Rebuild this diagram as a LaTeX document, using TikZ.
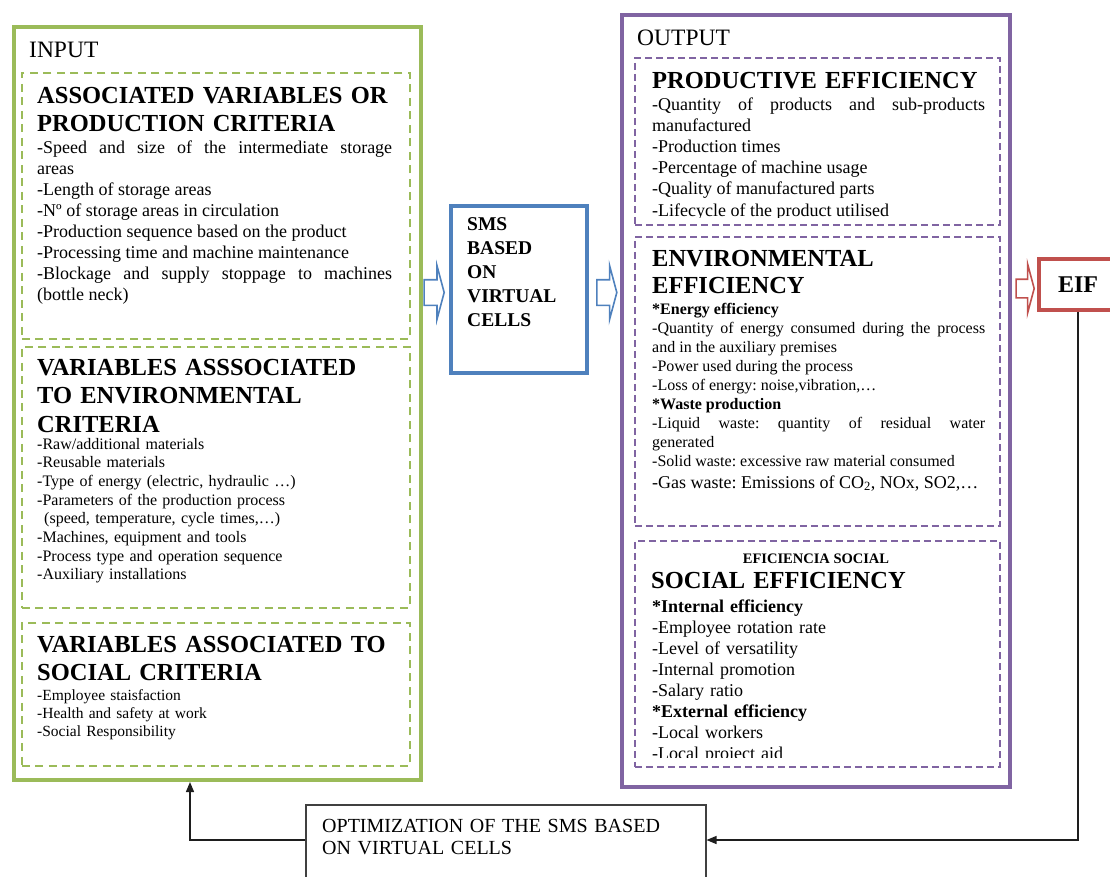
\documentclass[tikz,border=0pt]{standalone}
\usepackage{fontspec}
\setmainfont{Liberation Serif}
\usepackage{tikz}
\usetikzlibrary{arrows.meta,positioning,calc,shapes.arrows}
\usepackage{xcolor}
\definecolor{Leaf}{HTML}{9BBB59}
\definecolor{Plum}{HTML}{8064A2}
\definecolor{Steel}{HTML}{4F81BD}
\definecolor{Brick}{HTML}{C0504D}
\definecolor{Ink}{HTML}{1E1E1E}
\newcommand{\fsz}[2]{\fontsize{#1}{#2}\selectfont}
\frenchspacing
\tikzset{
  outerbox/.style={draw=#1, line width=4pt, inner sep=0pt, anchor=north west},
  subbox/.style={draw=#1, line width=1.6pt, inner sep=0pt, anchor=north west},
  greendash/.style={subbox=Leaf, dash pattern=on 8pt off 5.5pt},
  plumdash/.style={subbox=Plum, dash pattern=on 7pt off 4pt},
  headtxt/.style={anchor=base west, inner sep=0pt, text width=370pt, align=left,
    font=\bfseries\fsz{24.5}{28.5}},
  bodytxt/.style={anchor=base west, inner sep=0pt, text width=#1, align=justify},
  bodytxt/.default={355pt},
  hollowarr/.style={single arrow, draw=#1, fill=white, line width=1.6pt,
    inner xsep=0pt, inner ysep=12pt, single arrow head extend=14pt,
    single arrow tip angle=150, minimum height=20pt},
  fbarr/.style={draw=Ink, line width=1.3pt, -{Triangle[length=10pt,width=8pt]}},
}

\begin{document}
\begin{tikzpicture}[x=1pt, y=-1pt]
  \useasboundingbox (0,0) rectangle (1110,876);

  % input side
  \node[outerbox=Leaf, minimum width=407pt, minimum height=753pt] (input) at (12,25) {};
  \node[anchor=base west, inner sep=0pt, font=\fsz{23.5}{28}] (inlbl) at (29,57) {INPUT};
  \node[greendash, minimum width=388pt, minimum height=266pt] (prodvar) at (21,72) {};
  \node[greendash, minimum width=388pt, minimum height=261pt] (envvar) at (21,346) {};
  \node[greendash, minimum width=388pt, minimum height=143pt] (socvar) at (21,622) {};

  \node[headtxt] (prodhead) at (37,103) {ASSOCIATED VARIABLES OR\\PRODUCTION CRITERIA};
  \node[bodytxt, font=\fsz{18}{21}] (prodlist) at (37,153)
    {-Speed and size of the intermediate storage\linebreak areas\\
     -Length of storage areas\\
     -Nº of storage areas in circulation\\
     -Production sequence based on the product\\
     -Processing time and machine maintenance\\
     -Blockage and supply stoppage to machines\linebreak (bottle neck)};

  \node[headtxt, font=\bfseries\fsz{24.5}{28.5}] (envhead) at (37,375)
    {VARIABLES ASSSOCIATED\\TO ENVIRONMENTAL\\CRITERIA};
  \node[bodytxt, align=left, font=\fsz{16}{18.7}] (envlist) at (37,449)
    {-Raw/additional materials\\
     -Reusable materials\\
     -Type of energy (electric, hydraulic …)\\
     -Parameters of the production process\\
     \hspace*{7pt}(speed, temperature, cycle times,…)\\
     -Machines, equipment and tools\\
     -Process type and operation sequence\\
     -Auxiliary installations};

  \node[headtxt, font=\bfseries\fsz{24.5}{28}] (sochead) at (37,652)
    {VARIABLES ASSOCIATED TO\\SOCIAL CRITERIA};
  \node[bodytxt, align=left, font=\fsz{15.5}{18}] (soclist) at (37,700)
    {-Employee staisfaction\\
     -Health and safety at work\\
     -Social Responsibility};

  % the model in the middle
  \node[outerbox=Steel, minimum width=136pt, minimum height=167pt] (sms) at (449,204) {};
  \node[anchor=base west, inner sep=0pt, text width=110pt, align=left,
    font=\bfseries\fsz{19.5}{24}] (smslbl) at (467,230) {SMS\\BASED\\ON\\VIRTUAL\\CELLS};
  \node[hollowarr=Steel, anchor=tip] (inarr) at ([xshift=-4pt,yshift=-3pt]sms.west) {};
  \node[hollowarr=Steel, anchor=tail] (outarr) at ([xshift=7pt,yshift=-3pt]sms.east) {};

  % output side
  \node[outerbox=Plum, minimum width=388pt, minimum height=772pt] (output) at (620,13) {};
  \node[anchor=base west, inner sep=0pt, font=\fsz{23.5}{28}] (outlbl) at (637,45) {OUTPUT};
  \node[plumdash, minimum width=365pt, minimum height=167pt] (prodeff) at (634,57) {};
  \node[plumdash, minimum width=365pt, minimum height=289pt] (enveff) at (634,236) {};
  \node[plumdash, minimum width=365pt, minimum height=226pt] (soceff) at (634,540) {};

  \node[headtxt] (peffhead) at (652,88) {PRODUCTIVE EFFICIENCY};
  \begin{scope}
    \clip (634,57) rectangle (999,217.5);
    \node[bodytxt=333pt, font=\fsz{18}{21.2}] (pefflist) at (652,110)
      {-Quantity of products and sub-products\linebreak manufactured\\
       -Production times\\
       -Percentage of machine usage\\
       -Quality of manufactured parts\\
       -Lifecycle of the product utilised};
  \end{scope}

  \node[headtxt, font=\bfseries\fsz{24.5}{27.5}] (eeffhead) at (652,266) {ENVIRONMENTAL\\EFFICIENCY};
  \node[bodytxt=333pt, font=\fsz{16}{19}] (eefflist) at (652,314)
    {\textbf{*Energy efficiency}\\
     -Quantity of energy consumed during the process\linebreak and in the auxiliary premises\\
     -Power used during the process\\
     -Loss of energy: noise,vibration,…\\
     \textbf{*Waste production}\\
     -Liquid waste: quantity of residual water\linebreak generated\\
     -Solid waste: excessive raw material consumed\\[3pt]
     {\fsz{18}{19}-Gas waste: Emissions of CO\textsubscript{2}, NOx, SO2,…}};

  \node[anchor=base, inner sep=0pt, font=\bfseries\fsz{14.5}{17}] (seffsub) at (816,563) {EFICIENCIA SOCIAL};
  \node[headtxt] (seffhead) at (651,588) {SOCIAL EFFICIENCY};
  \begin{scope}
    \clip (634,540) rectangle (999,757);
    \node[bodytxt=333pt, align=left, font=\fsz{18}{21}] (sefflist) at (652,612)
      {\textbf{*Internal efficiency}\\
       -Employee rotation rate\\
       -Level of versatility\\
       -Internal promotion\\
       -Salary ratio\\
       \textbf{*External efficiency}\\
       -Local workers\\
       -Local project aid};
  \end{scope}

  % indicator and feedback loop
  \node[outerbox=Brick, minimum width=78pt, minimum height=51pt,
    font=\bfseries\fsz{24}{28}] (eif) at (1037,257) {EIF};
  \node[hollowarr=Brick, inner ysep=8.5pt, single arrow head extend=15pt,
    minimum height=18pt, anchor=tip] (eifarr) at ([xshift=-2pt,yshift=-4pt]eif.west) {};

  \node[draw=Ink!85, line width=1.5pt, inner sep=0pt, anchor=north west,
    minimum width=400pt, minimum height=90pt] (opt) at (305,804) {};
  \node[anchor=base west, inner sep=0pt, text width=370pt, align=left,
    font=\fsz{20}{22}] (optlbl) at (322,832) {OPTIMIZATION OF THE SMS BASED\\ON VIRTUAL CELLS};

  \draw[fbarr] (eif.south) |- ([yshift=-36pt]opt.north east);
  \draw[fbarr] ([yshift=-36pt]opt.north west) -| ([xshift=-27.5pt]input.south);
\end{tikzpicture}
\end{document}
